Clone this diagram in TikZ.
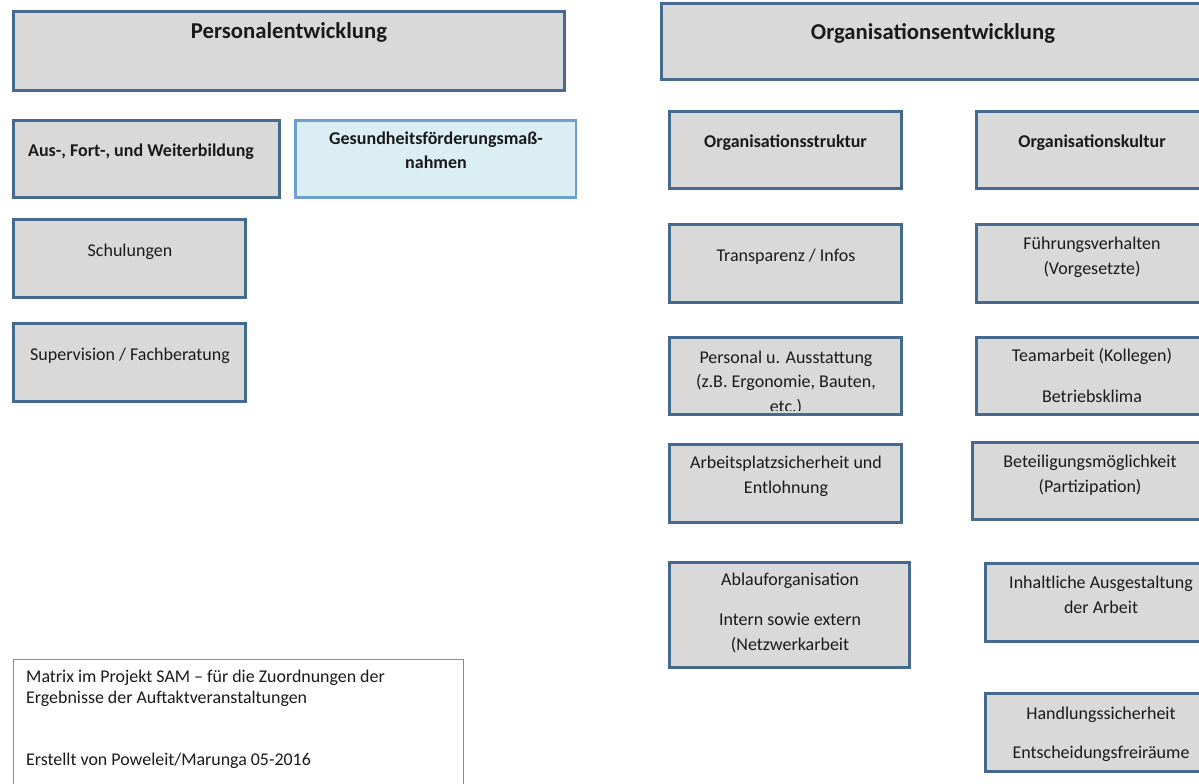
\documentclass[tikz,border=0pt]{standalone}
\usepackage{fontspec}
\setmainfont{Carlito}
\usetikzlibrary{fit}
\definecolor{boxfill}{HTML}{D9D9D9}
\definecolor{boxline}{HTML}{46698F}
\definecolor{bluefill}{HTML}{DBEEF4}
\definecolor{blueline}{HTML}{6E9FD3}
\definecolor{noteline}{HTML}{8A8A8A}
\definecolor{txtcol}{HTML}{1A1A1A}
\tikzset{
  box/.style={draw=boxline, fill=boxfill, line width=3pt, inner sep=0pt, outer sep=0pt},
  bluebox/.style={draw=blueline, fill=bluefill, line width=2.4pt, inner sep=0pt, outer sep=0pt},
  notebox/.style={draw=noteline, fill=white, line width=1.2pt, inner sep=0pt, outer sep=0pt},
  txt/.style={anchor=base, align=center, inner sep=0pt, text=txtcol, font=\fontsize{18}{24.5}\selectfont},
  btxt/.style={txt, font=\fontsize{18}{24}\selectfont\bfseries},
  htxt/.style={txt, font=\fontsize{22.7}{24}\selectfont\bfseries},
  ltxt/.style={anchor=base west, align=left, inner sep=0pt, text=txtcol, font=\fontsize{17.9}{21}\selectfont}
}
\begin{document}
\begin{tikzpicture}[x=1pt,y=-1pt]
\useasboundingbox (0,0) rectangle (1199,784);
\clip (0,0) rectangle (1199,784);
% Left column (multi-line texts are placed by the baseline of their last line)
\node[box, fit={(13.5,11.5) (564.5,90.5)}] (pe) {};
\node[htxt] (pe-t) at (289,39) {Personalentwicklung};
\node[box, fit={(13.5,120.5) (279.5,197.5)}] (afw) {};
\node[btxt] (afw-t) at (141,156) {Aus-, Fort-, und Weiterbildung};
\node[bluebox, fit={(295.5,120.5) (576,197.5)}] (gf) {};
\node[btxt] (gf-t) at (436,168) {Gesundheitsförderungsmaß-\\nahmen};
\node[box, fit={(13.5,219.5) (245.5,297.5)}] (sch) {};
\node[txt] (sch-t) at (130,256) {Schulungen};
\node[box, fit={(13.5,323.5) (245.5,401.5)}] (sup) {};
\node[txt] (sup-t) at (130,360) {Supervision / Fachberatung};
% Note
\node[notebox, fit={(13.5,659.5) (463.5,800)}] (note) {};
\node[ltxt] (note-a) at (26,682) {Matrix im Projekt SAM -- für die Zuordnungen der};
\node[ltxt] (note-b) at (26,703) {Ergebnisse der Auftaktveranstaltungen};
\node[ltxt] (note-c) at (26,765) {Erstellt von Poweleit/Marunga 05-2016};
% Right part
\node[box, fit={(661.5,3.5) (1206,79.5)}] (oe) {};
\node[htxt] (oe-t) at (933,40) {Organisationsentwicklung};
\node[box, fit={(669.5,111.5) (901.5,188.5)}] (os) {};
\node[btxt] (os-t) at (785.5,147) {Organisationsstruktur};
\node[box, fit={(976.5,111.5) (1209,188.5)}] (ok) {};
\node[btxt] (ok-t) at (1092,147) {Organisationskultur};
\node[box, fit={(669.5,224.5) (901.5,302.5)}] (ti) {};
\node[txt] (ti-t) at (786,261) {Transparenz / Infos};
\node[box, fit={(976.5,224.5) (1209,302.5)}] (fv) {};
\node[txt] (fv-t) at (1092,274) {Führungsverhalten\\(Vorgesetzte)};
\node[box, fit={(669.5,337.5) (901.5,414.5)}] (pa) {};
\begin{scope}
\clip (pa.north west) rectangle (901.5,410.5);
\node[txt] (pa-t) at (786,412) {Personal u. Ausstattung\\(z.B. Ergonomie, Bauten,\\etc.)};
\end{scope}
\node[box, fill=none, fit={(669.5,337.5) (901.5,414.5)}] (pa-frame) {};
\node[box, fit={(976.5,337.5) (1209,414.5)}] (ta) {};
\node[txt] (ta-t) at (1092,402) {Teamarbeit (Kollegen)\\[16.5pt]Betriebsklima};
\node[box, fit={(669.5,444.5) (901.5,522.5)}] (as) {};
\node[txt] (as-t) at (786,493) {Arbeitsplatzsicherheit und\\Entlohnung};
\node[box, fit={(972.5,442.5) (1209,519.5)}] (bm) {};
\node[txt] (bm-t) at (1090,492) {Beteiligungsmöglichkeit\\(Partizipation)};
\node[box, fit={(669.5,562.5) (909.5,667.5)}] (ao) {};
\node[txt] (ao-t) at (790,650) {Ablauforganisation\\[15.5pt]Intern sowie extern\\(Netzwerkarbeit};
\node[box, fit={(985.5,563.5) (1218,641.5)}] (ia) {};
\node[txt] (ia-t) at (1101,613) {Inhaltliche Ausgestaltung\\der Arbeit};
\node[box, fit={(985.5,693.5) (1218,771.5)}] (hs) {};
\node[txt] (hs-t) at (1101,758) {Handlungssicherheit\\[14.5pt]Entscheidungsfreiräume};
\end{tikzpicture}
\end{document}
